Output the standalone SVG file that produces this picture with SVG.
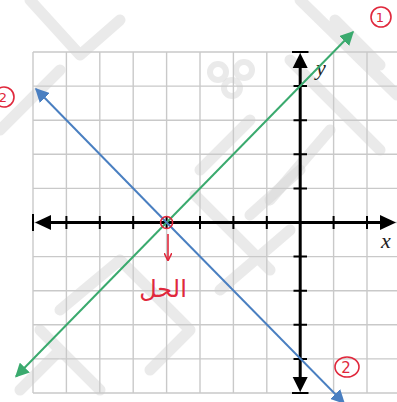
<svg xmlns="http://www.w3.org/2000/svg" width="397" height="402" viewBox="0 0 397 402">
<style>
.grid{stroke:#c9c9c9;stroke-width:1.4;fill:none}
.wm{stroke:#d6d6d6;stroke-width:11;fill:none;stroke-linejoin:round;stroke-linecap:round;opacity:0.5}
.wmc{stroke:#d6d6d6;stroke-width:6;fill:none;opacity:0.5}
.axis{stroke:#000;stroke-width:3;fill:none}
.tick{stroke:#000;stroke-width:2}
.red{stroke:#e0283c;fill:none;stroke-width:1.6}
.redt{fill:#e0283c;font-family:"DejaVu Sans",sans-serif}
.lbl{font-family:"Liberation Serif",serif;font-style:italic;font-size:22px;fill:#222}
</style>
<defs>
<marker id="ag" viewBox="0 0 10 10" refX="9" refY="5" markerWidth="7" markerHeight="7" orient="auto" markerUnits="strokeWidth"><path d="M0,0 L10,5 L0,10 z" fill="#3aaa6e"/></marker>
<marker id="ab" viewBox="0 0 10 10" refX="9" refY="5" markerWidth="7" markerHeight="7" orient="auto" markerUnits="strokeWidth"><path d="M0,0 L10,5 L0,10 z" fill="#4a7fc1"/></marker>
<marker id="ar" viewBox="0 0 10 10" refX="9" refY="5" markerWidth="5" markerHeight="5" orient="auto" markerUnits="strokeWidth"><path d="M0,0 L10,5 L0,10" fill="none" stroke="#e0283c" stroke-width="2"/></marker>
</defs>
<rect width="397" height="402" fill="#fff"/>
<g id="watermark">
<path class="wm" d="M30,0 L80,55 L120,20 M60,70 L0,130"/>
<path class="wm" d="M300,0 L397,95 M335,20 L380,65"/>
<path class="wm" d="M290,60 L380,150 M250,120 L200,170 M330,130 L270,200"/>
<circle class="wmc" cx="218" cy="72" r="8"/>
<circle class="wmc" cx="244" cy="70" r="8"/>
<circle class="wmc" cx="232" cy="88" r="8"/>
<path class="wm" d="M195,195 L270,270 M250,215 L300,170 M220,290 L290,230"/>
<path class="wm" d="M40,330 L100,390 M60,310 L120,260 L190,330 L150,370 M20,390 L60,350"/>
</g>
<g id="grid">
<path class="grid" d="M33,52V393M66.4,52V393M99.8,52V393M133.2,52V393M166.6,52V393M200,52V393M233.4,52V393M266.8,52V393M300.2,52V393M333.6,52V393M367,52V393"/>
<path class="grid" d="M33,52H397M33,86.1H397M33,120.2H397M33,154.3H397M33,188.4H397M33,222.5H397M33,256.6H397M33,290.7H397M33,324.8H397M33,358.9H397M33,393H397"/>
</g>
<g id="axes">
<path class="axis" d="M48,222.5H382"/>
<path class="axis" d="M300.2,66V378"/>
<path class="tick" d="M33,214V231M66.4,216V229M99.8,216V229M133.2,216V229M166.6,216V229M200,216V229M233.4,216V229M266.8,216V229M333.6,216V229M367,216V229"/>
<path class="tick" d="M292,52H308.5M293.5,86.1H307M293.5,120.2H307M293.5,154.3H307M293.5,188.4H307M293.5,256.6H307M293.5,290.7H307M293.5,324.8H307M293.5,358.9H307M292,393H308.5"/>
<path d="M35,222.5L51,215L51,230z" fill="#000"/>
<path d="M396,222.5L380,215L380,230z" fill="#000"/>
<path d="M300.2,53L292.7,68L307.7,68z" fill="#000"/>
<path d="M300.2,392L292.7,377L307.7,377z" fill="#000"/>
<text class="lbl" x="381" y="248">x</text>
<text class="lbl" x="316" y="75">y</text>
</g>
<g id="connectors">
<line x1="166.6" y1="222.5" x2="353" y2="32" stroke="#3aaa6e" stroke-width="2" marker-end="url(#ag)"/>
<line x1="166.6" y1="222.5" x2="16" y2="376.5" stroke="#3aaa6e" stroke-width="2" marker-end="url(#ag)"/>
<line x1="166.6" y1="222.5" x2="36" y2="89" stroke="#4a7fc1" stroke-width="2" marker-end="url(#ab)"/>
<line x1="166.6" y1="222.5" x2="344" y2="403" stroke="#4a7fc1" stroke-width="2" marker-end="url(#ab)"/>
</g>
<g id="solution">
<circle class="red" cx="166.6" cy="222.5" r="6"/>
<line x1="168" y1="234" x2="168" y2="260" stroke="#e0283c" stroke-width="1.6" marker-end="url(#ar)"/>
<text class="redt" x="163" y="297" font-size="24" text-anchor="middle">الحل</text>
</g>
<g id="label1">
<circle class="red" cx="381" cy="17" r="10"/>
<text class="redt" x="380" y="22" font-size="13" text-anchor="middle">1</text>
</g>
<g id="label2left">
<circle class="red" cx="4" cy="97" r="10"/>
<text class="redt" x="3" y="102" font-size="13" text-anchor="middle">2</text>
</g>
<g id="label2">
<ellipse class="red" cx="347" cy="367" rx="12" ry="10"/>
<text class="redt" x="346" y="373" font-size="15" text-anchor="middle">2</text>
</g>
</svg>
